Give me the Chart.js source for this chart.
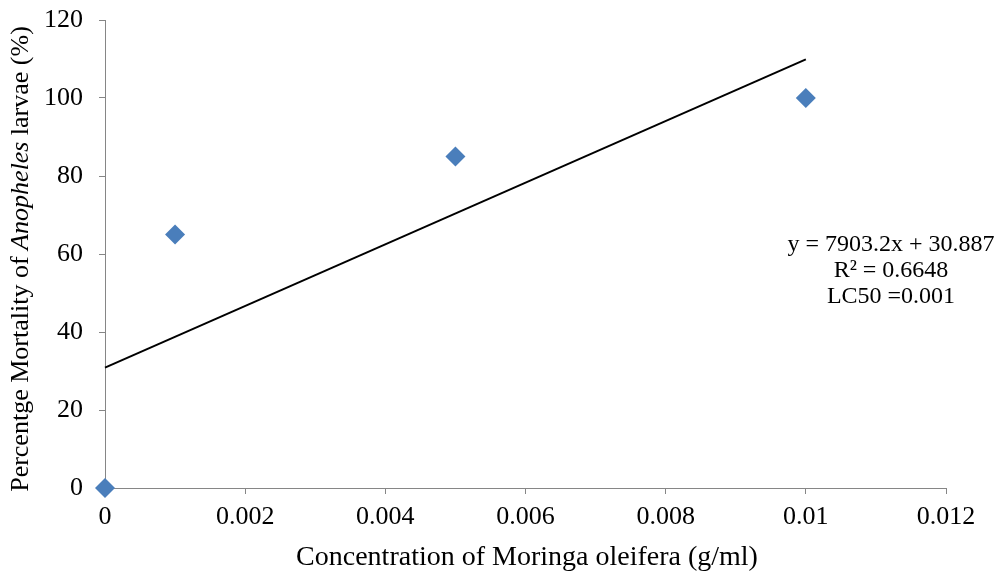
<!DOCTYPE html>
<html><head><meta charset="utf-8">
<script src="https://cdn.jsdelivr.net/npm/chart.js@4/dist/chart.umd.min.js"></script>
<style>html,body{margin:0;padding:0;background:#fff;}#wrap{width:999px;height:576px;position:relative;}</style>
</head><body><div id="wrap"><canvas id="c" width="999" height="576"></canvas></div>
<script>
const concentrations = [0, 0.001, 0.005, 0.01];
const mortality = [0, 65, 85, 100];
const trendX = [0, 0.01];
const trendY = [30.887, 109.919];
const xTicks = [0, 0.002, 0.004, 0.006, 0.008, 0.01, 0.012];
const yTicks = [0, 20, 40, 60, 80, 100, 120];
const equationLines = ['y = 7903.2x + 30.887', 'R\u00b2 = 0.6648', 'LC50 =0.001'];

const FONT = '"Liberation Serif", "Times New Roman", serif';

const textPlugin = {
  id: 'texts',
  afterDraw(chart) {
    const ctx = chart.ctx;
    ctx.save();
    ctx.fillStyle = '#000';
    ctx.textBaseline = 'middle';
    // equation
    ctx.font = '24px ' + FONT;
    ctx.textAlign = 'center';
    equationLines.forEach((t, i) => ctx.fillText(t, 891, 245 + i * 26));
    // x title
    ctx.font = '28px ' + FONT;
    ctx.fillText('Concentration of Moringa oleifera (g/ml)', 527, 558);
    // y title with italic part
    const parts = [['Percentge Mortality of ', 'normal'], ['Anopheles', 'italic'], [' larvae (%)', 'normal']];
    let total = 0;
    parts.forEach(p => { ctx.font = p[1] + ' 26px ' + FONT; total += ctx.measureText(p[0]).width; });
    ctx.translate(21, 259);
    ctx.rotate(-Math.PI / 2);
    ctx.textAlign = 'left';
    let x = -total / 2;
    parts.forEach(p => { ctx.font = p[1] + ' 26px ' + FONT; ctx.fillText(p[0], x, 0); x += ctx.measureText(p[0]).width; });
    ctx.restore();
  }
};

new Chart(document.getElementById('c'), {
  type: 'scatter',
  data: {
    datasets: [
      {
        label: 'Mortality',
        data: concentrations.map((c, i) => ({x: c, y: mortality[i]})),
        pointStyle: 'rectRot',
        pointRadius: 10,
        pointHoverRadius: 10,
        backgroundColor: '#4a7ebb',
        borderColor: '#4a7ebb',
        borderWidth: 0,
        clip: false,
        order: 1
      },
      {
        label: 'Trend',
        type: 'line',
        data: trendX.map((c, i) => ({x: c, y: trendY[i]})),
        borderColor: '#000',
        borderWidth: 2,
        pointRadius: 0,
        fill: false,
        clip: false,
        order: 2
      }
    ]
  },
  options: {
    responsive: false,
    animation: false,
    devicePixelRatio: 1,
    layout: {padding: {left: 0, top: 20, right: 53, bottom: 0}},
    plugins: {legend: {display: false}, tooltip: {enabled: false}},
    scales: {
      x: {
        type: 'linear', min: 0, max: 0.012,
        afterBuildTicks(s) { s.ticks = xTicks.map(v => ({value: v})); },
        afterFit(s) { s.height = 88; s.paddingLeft = 0; s.paddingRight = 0; },
        grid: {drawOnChartArea: false, drawTicks: true, tickLength: 6, color: '#868686', lineWidth: 1},
        border: {color: '#868686', width: 1},
        ticks: {color: '#000', font: {family: FONT, size: 26}, padding: 8, maxRotation: 0,
          callback: v => String(+v.toFixed(3))}
      },
      y: {
        min: 0, max: 120,
        afterBuildTicks(s) { s.ticks = yTicks.map(v => ({value: v})); },
        afterFit(s) { s.width = 105; s.paddingTop = 0; s.paddingBottom = 0; },
        grid: {drawOnChartArea: false, drawTicks: true, tickLength: 6, color: '#868686', lineWidth: 1},
        border: {color: '#868686', width: 1},
        ticks: {color: '#000', font: {family: FONT, size: 26}, padding: 16}
      }
    }
  },
  plugins: [textPlugin]
});
</script></body></html>
